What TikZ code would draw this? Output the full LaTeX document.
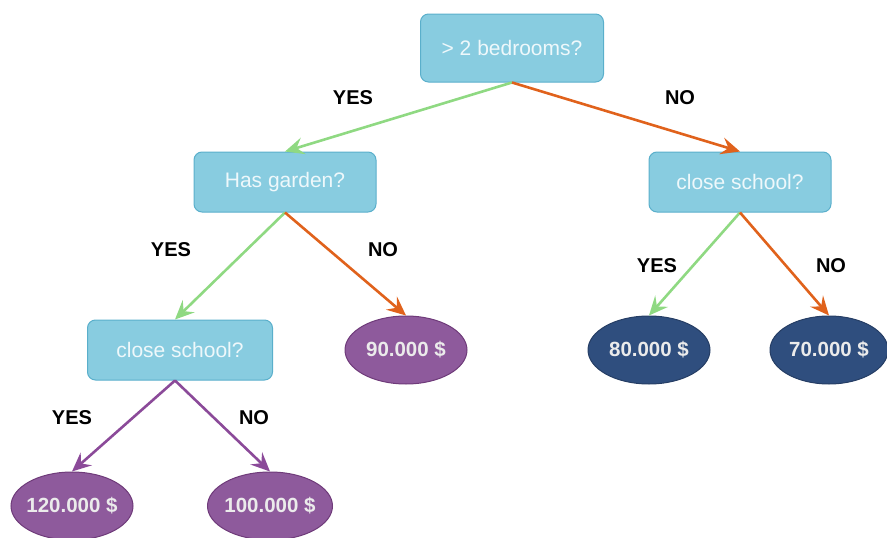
\documentclass[tikz,border=0pt]{standalone}
\usepackage{xcolor}
\usepackage{fontspec}
\setmainfont{Liberation Sans}
\usetikzlibrary{shapes.geometric,arrows.meta}

\definecolor{qFill}{HTML}{88CCE0}
\definecolor{qDraw}{HTML}{5AAFCB}
\definecolor{qText}{HTML}{EEF8FB}
\definecolor{yesGreen}{HTML}{8FD982}
\definecolor{noOrange}{HTML}{E0621C}
\definecolor{leafPurple}{HTML}{8E5A9C}
\definecolor{edgePurple}{HTML}{8B4A99}
\definecolor{leafBlue}{HTML}{2F4E7E}

\begin{document}
\begin{tikzpicture}[x=1pt, y=-1pt,
        question/.style={rectangle, rounded corners=8pt, fill=qFill, draw=qDraw, line width=1pt,
            text=qText, font=\fontsize{21}{24}\selectfont, inner sep=0pt, minimum height=60pt},
        leaf/.style={ellipse, line width=1pt, text=white!92!black, font=\bfseries\fontsize{20.5}{24}\selectfont,
            inner xsep=-8pt, inner ysep=0pt, minimum width=122pt, minimum height=68pt},
        answer/.style={font=\bfseries\fontsize{20}{23}\selectfont, text=black},
        branch/.style={line width=2.6pt, -{Stealth[length=19pt, width=17pt, inset=7pt]}}
    ]
    \useasboundingbox (0, 0) rectangle (887, 538);

    % questions
    \node[question, minimum width=183pt, minimum height=68pt] (bedrooms) at (512, 48) {> 2 bedrooms?};
    \node[question, minimum width=182pt] (garden) at (285, 182) {Has garden?};
    \node[question, minimum width=182pt] (schoolR) at (740, 182) {close school?};
    \node[question, minimum width=185pt] (schoolL) at (180, 350) {close school?};

    % prices
    \node[leaf, fill=leafPurple, draw=edgePurple!80!black] (p90) at (406, 350) {90.000 \$};
    \node[leaf, fill=leafBlue, draw=leafBlue!80!black] (p80) at (649, 350) {80.000 \$};
    \node[leaf, fill=leafBlue, draw=leafBlue!80!black, minimum width=118pt] (p70) at (829, 350) {70.000 \$};
    \node[leaf, fill=leafPurple, draw=edgePurple!80!black] (p120) at (72, 506) {120.000 \$};
    \node[leaf, fill=leafPurple, draw=edgePurple!80!black, minimum width=125pt] (p100) at (270, 506) {100.000 \$};

    % branches
    \draw[branch, yesGreen] (bedrooms.south) -- (garden.north);
    \draw[branch, noOrange] (bedrooms.south) -- (schoolR.north);
    \draw[branch, yesGreen] (garden.south) -- ([xshift=-5pt]schoolL.north);
    \draw[branch, noOrange] (garden.south) -- (p90.north);
    \draw[branch, yesGreen] (schoolR.south) -- (p80.north);
    \draw[branch, noOrange] (schoolR.south) -- (p70.north);
    \draw[branch, edgePurple] ([xshift=-5pt]schoolL.south) -- (p120.north);
    \draw[branch, edgePurple] ([xshift=-5pt]schoolL.south) -- (p100.north);

    % labels
    \node[answer] (yes1) at (353, 98) {YES};
    \node[answer] (no1) at (680, 98) {NO};
    \node[answer] (yes2) at (171, 250) {YES};
    \node[answer] (no2) at (383, 250) {NO};
    \node[answer] (yes3) at (657, 266) {YES};
    \node[answer] (no3) at (831, 266) {NO};
    \node[answer] (yes4) at (72, 418) {YES};
    \node[answer] (no4) at (254, 418) {NO};
\end{tikzpicture}
\end{document}
